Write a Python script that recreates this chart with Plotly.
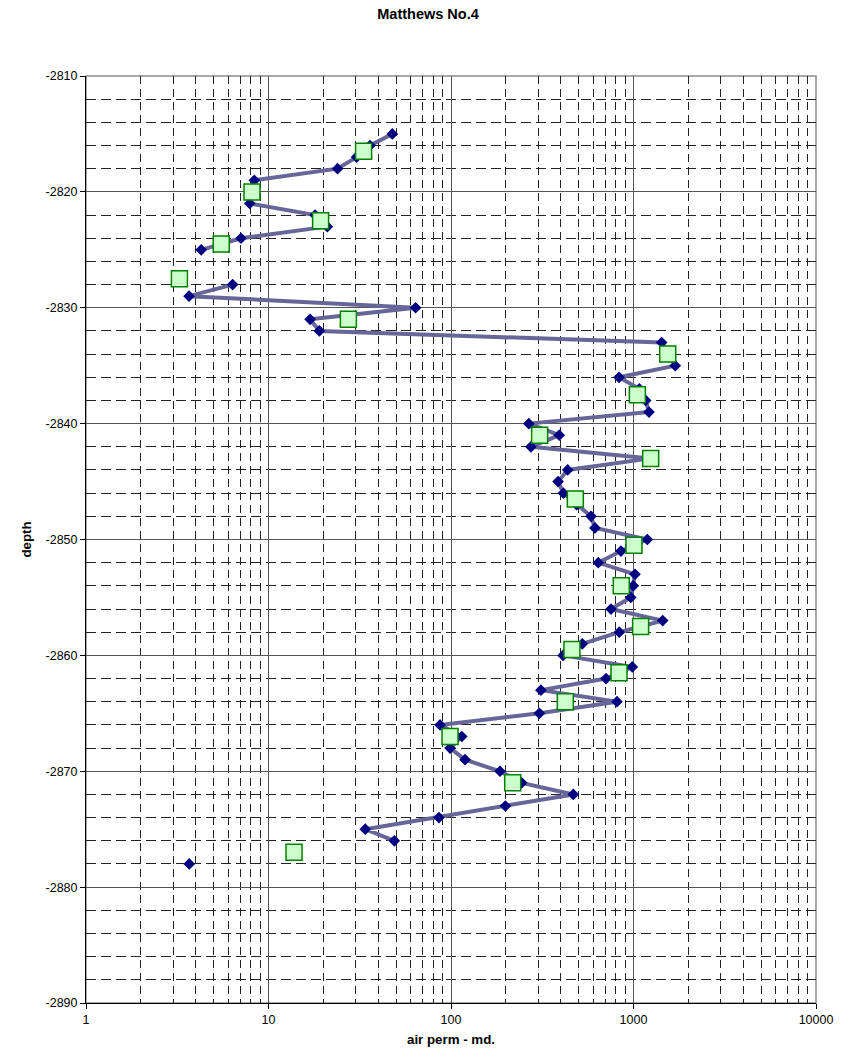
import plotly.graph_objects as go

# Diamond series (line + markers): depth vs air permeability (md)
depth_a = [-2815, -2816, -2817, -2818, -2819, -2820, -2821, -2822, -2823, -2824,
           -2825, -2826, -2827, -2828, -2829, -2830, -2831, -2832, -2833, -2834,
           -2835, -2836, -2837, -2838, -2839, -2840, -2841, -2842, -2843, -2844,
           -2845, -2846, -2847, -2848, -2849, -2850, -2851, -2852, -2853, -2854,
           -2855, -2856, -2857, -2858, -2859, -2860, -2861, -2862, -2863, -2864,
           -2865, -2866, -2867, -2868, -2869, -2870, -2871, -2872, -2873, -2874,
           -2875, -2876, -2877, -2878]
perm_a = [47.7, 36.0, 30.4, 23.9, 8.36, 8.1, 7.89, 18.0, 21.0, 7.07,
          4.28, None, None, 6.36, 3.67, 64.0, 16.9, 19.0, 1427, 1550,
          1694, 833, 1077, 1166, 1216, 267, 392, 274, 1240, 436,
          386, 413, 488, 585, 615, 1190, 854, 641, 1019, 997,
          966, 753, 1445, 836, 524, 411, 985, 707, 311, 812,
          305, 87.1, 114.6, 98.8, 119.4, 185.5, 244, 468, 198.5, 85.9,
          33.9, 48.9, None, 3.68]

# Square series (markers only)
depth_b = [-2816.5, -2820, -2822.5, -2824.5, -2827.5, -2831, -2834, -2837.5,
           -2841, -2843, -2846.5, -2850.5, -2854, -2857.5, -2859.5, -2861.5,
           -2864, -2867, -2871, -2877]
perm_b = [33.2, 8.12, 19.3, 5.51, 3.25, 27.4, 1540, 1050,
          306, 1242, 480, 1006, 857, 1094, 460, 833,
          423, 98.8, 217.8, 13.8]

x_tickvals = [1, 10, 100, 1000, 10000]
x_ticktext = ["1", "10", "100", "1000", "10000"]
y_tickvals = [-2890, -2880, -2870, -2860, -2850, -2840, -2830, -2820, -2810]
y_ticktext = ["-2890", "-2880", "-2870", "-2860", "-2850", "-2840", "-2830",
              "-2820", "-2810"]

FONT = "Liberation Sans, Arial, sans-serif"

fig = go.Figure()
fig.add_trace(go.Scatter(
    x=perm_a, y=depth_a, mode="lines+markers", connectgaps=False,
    line=dict(color="#666699", width=4),
    marker=dict(symbol="diamond", size=9, color="#000080", line=dict(width=0)),
    showlegend=False, hoverinfo="x+y"))
fig.add_trace(go.Scatter(
    x=perm_b, y=depth_b, mode="markers",
    marker=dict(symbol="square", size=16, color="#CCFFCC",
                line=dict(color="#008000", width=1.5)),
    showlegend=False, hoverinfo="x+y"))

# plot-area frame (gray, like the reference)
fig.add_shape(type="rect", xref="paper", yref="paper", x0=0, y0=0, x1=1, y1=1,
              line=dict(color="#8c8c8c", width=1.5), layer="below")

fig.update_layout(
    width=856, height=1057,
    margin=dict(l=86, r=40, t=76, b=54),
    paper_bgcolor="white", plot_bgcolor="white",
    font=dict(family=FONT, color="black", size=12.5),
    title=dict(text="<b>Matthews No.4</b>", x=0.5, xanchor="center",
               y=1 - 14 / 1057, yanchor="middle", yref="container",
               font=dict(size=14.5, family=FONT, color="black")),
    xaxis=dict(
        type="log", range=[0, 4], tickvals=x_tickvals, ticktext=x_ticktext,
        showline=True, linecolor="black", linewidth=1,
        ticks="outside", ticklen=5, tickcolor="black",
        showgrid=True, gridcolor="#555555", gridwidth=1,
        zeroline=False,
        minor=dict(dtick="D1", showgrid=True, gridcolor="#222222",
                   griddash="8px,5px", gridwidth=1),
        title=dict(text="<b>air perm - md.</b>", standoff=8,
                   font=dict(size=13.3, family=FONT, color="black")),
        tickfont=dict(size=12.5, family=FONT, color="black"),
    ),
    yaxis=dict(
        range=[-2890, -2810], tickvals=y_tickvals, ticktext=y_ticktext,
        showline=True, linecolor="black", linewidth=1,
        ticks="outside", ticklen=5, tickcolor="black",
        showgrid=True, gridcolor="#555555", gridwidth=1,
        zeroline=False,
        minor=dict(dtick=2, tick0=-2890, showgrid=True, gridcolor="#222222",
                   griddash="10px,5px", gridwidth=1),
        title=dict(text="<b>depth</b>", standoff=10,
                   font=dict(size=13.3, family=FONT, color="black")),
        tickfont=dict(size=12.5, family=FONT, color="black"),
    ),
)

fig.write_html("out.html")
